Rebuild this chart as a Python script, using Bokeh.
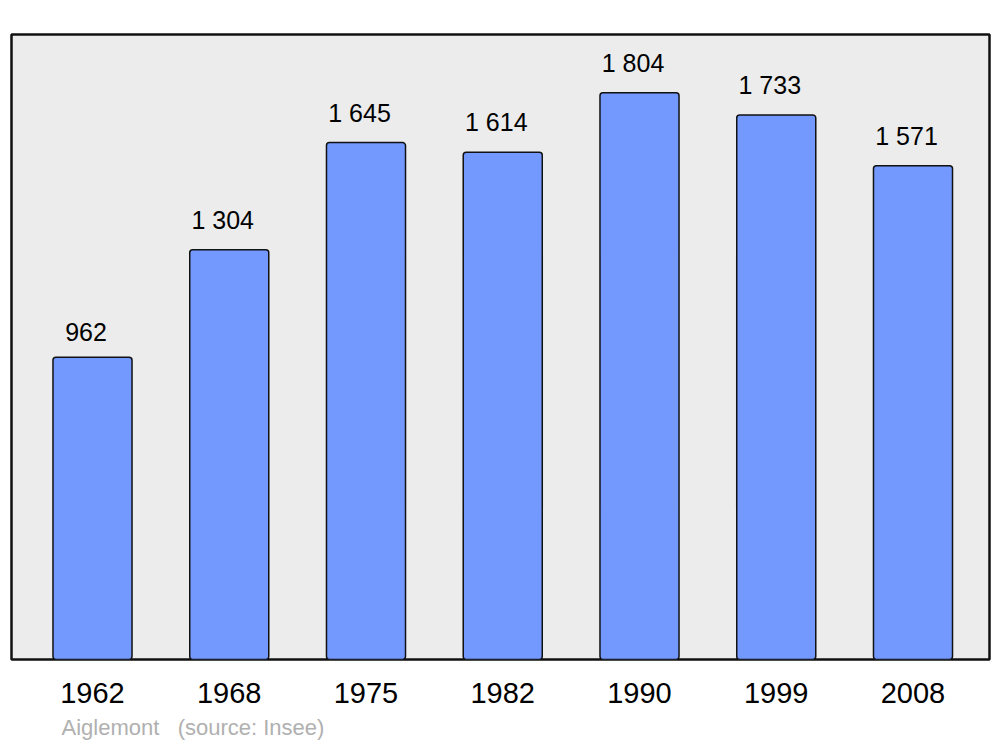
from bokeh.plotting import figure
from bokeh.models import ColumnDataSource, FixedTicker, Range1d, Title
from bokeh.core.properties import value
from bokeh.embed import file_html
from bokeh.resources import INLINE

years = ["1962", "1968", "1975", "1982", "1990", "1999", "2008"]
population = [962, 1304, 1645, 1614, 1804, 1733, 1571]
labels = ["962", "1 304", "1 645", "1 614", "1 804", "1 733", "1 571"]
positions = list(range(len(years)))

src = ColumnDataSource(data=dict(x=positions, top=population, label=labels))

FONT = "Liberation Sans"

p = figure(width=992, height=747, output_backend="svg", toolbar_location=None,
           x_range=Range1d(-0.5923, 6.5594), y_range=Range1d(0, 1989),
           min_border_left=11, min_border_right=3, min_border_top=34, min_border_bottom=87)
p.background_fill_color = "#ececec"
p.border_fill_color = "white"
p.outline_line_color = "#111111"
p.outline_line_width = 2.5
p.grid.visible = False
p.yaxis.visible = False

p.vbar(x="x", top="top", bottom=0, width=0.578, source=src,
       fill_color="#7399ff", line_color="#111111", line_width=1.5, border_radius=3)

p.text(x="x", y="top", text="label", source=src, text_align="center", text_baseline="bottom",
       x_offset=-6.5, y_offset=-16, text_font=value(FONT), text_font_size="25px", text_color="black")

ax = p.xaxis[0]
ax.ticker = FixedTicker(ticks=positions)
ax.major_label_overrides = {i: y for i, y in zip(positions, years)}
ax.axis_line_color = None
ax.major_tick_line_color = None
ax.minor_tick_line_color = None
ax.major_label_text_font = FONT
ax.major_label_text_font_size = "29px"
ax.major_label_text_color = "black"
ax.major_label_standoff = 17

footer = Title(text="Aiglemont\u00a0\u00a0\u00a0(source: Insee)", align="left", offset=50,
               text_font=FONT, text_font_size="22px", text_color="#b0b0b0",
               text_font_style="normal", standoff=15)
p.add_layout(footer, "below")

open("out.html", "w").write(file_html(p, INLINE))
